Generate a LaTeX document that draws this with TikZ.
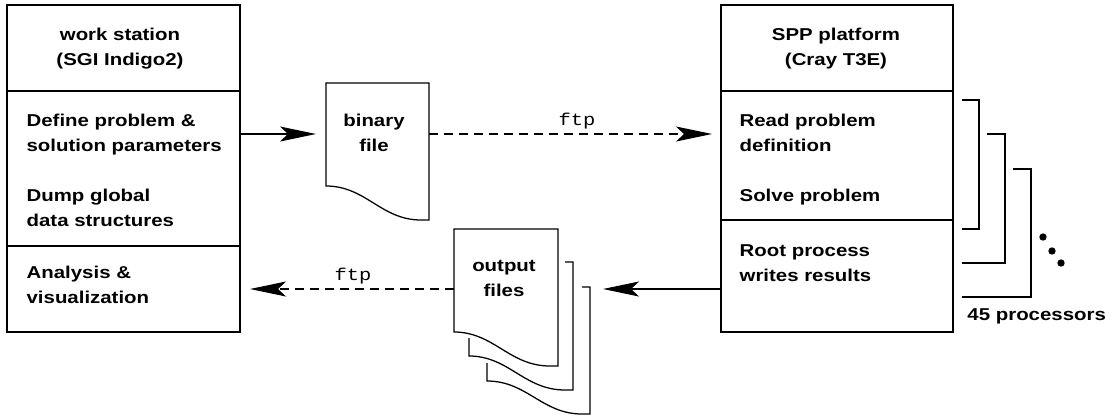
\documentclass[tikz,border=0pt]{standalone}
\usepackage{fontspec}
\setmainfont{Liberation Sans}[FakeStretch=1.19]
\setmonofont{Liberation Mono}[FakeStretch=1.19]
\usetikzlibrary{arrows.meta}
\tikzset{
  testo/.style={font=\bfseries\fontsize{12.2pt}{17.7pt}\selectfont, align=left, anchor=base west, inner sep=0pt},
  titolo/.style={testo, align=center, anchor=base},
  etichetta/.style={font=\ttfamily\fontsize{12.2pt}{17.7pt}\selectfont, anchor=base, inner sep=0pt},
  freccia/.style={-{Stealth[length=0.9cm, width=0.375cm, inset=0.2cm]}, line width=0.9pt},
  tratteggio/.style={dash pattern=on 0.225cm off 0.15cm},
}
\begin{document}
\begin{tikzpicture}[x=0.025cm, y=-0.025cm, line width=0.9pt]
            \useasboundingbox (0,0) rectangle (1115,417);
            %riquadri
            \draw (7,5) rectangle (240,332);
            \draw (7,91) -- (240,91);
            \draw (7,246) -- (240,246);
            \draw (721,5) rectangle (953,332);
            \draw (721,91) -- (953,91);
            \draw (721,220) -- (953,220);
            %file
            \draw (326,83) -- (429,83) -- (429,220) -- (421,220)
                .. controls (381,220) and (366,186) .. (326,186) -- cycle;
            \draw (454,229) -- (558,229) -- (558,366) -- (550,366)
                .. controls (509,366) and (494,332) .. (454,332) -- cycle;
            \draw (565,262) -- (573,262) -- (573,390) -- (565,390)
                .. controls (524,390) and (509,356) .. (469,356) -- (469,338);
            \draw (582,287) -- (590,287) -- (590,414) -- (582,414)
                .. controls (542,414) and (527,381) .. (487,381) -- (487,363);
            %processori
            \draw (962,100) -- (979,100) -- (979,229) -- (962,229);
            \draw (987,134) -- (1005,134) -- (1005,263) -- (962,263);
            \draw (1013,169) -- (1031,169) -- (1031,297) -- (962,297);
            \fill (1043,237) circle (0.092cm);
            \fill (1052,251) circle (0.092cm);
            \fill (1061,263) circle (0.092cm);
            %punti
            \coordinate (ws-out) at (240,134);
            \coordinate (bin-in) at (316,134);
            \coordinate (bin-out) at (429,134);
            \coordinate (spp-in) at (712,134);
            \coordinate (spp-out) at (721,289);
            \coordinate (out-in) at (603,289);
            \coordinate (out-out) at (454,289);
            \coordinate (ws-in) at (250,289);
            %frecce
            \draw[freccia] (ws-out) -- (bin-in);
            \draw[freccia, tratteggio] (bin-out) -- (spp-in);
            \draw[freccia] (spp-out) -- (out-in);
            \draw[freccia, tratteggio] (out-out) -- (ws-in);
            %etichette (y = base dell'ultima riga)
            \node[titolo] (ws-titolo) at (120,65.7) {work station\\(SGI Indigo2)};
            \node[testo] (ws-def) at (26,151) {Define problem \&\\solution parameters};
            \node[testo] (ws-dump) at (26,226.7) {Dump global\\data structures};
            \node[testo] (ws-vis) at (26,303.3) {Analysis \&\\visualization};
            \node[titolo] (spp-titolo) at (836,65.7) {SPP platform\\(Cray T3E)};
            \node[testo] (spp-read) at (739,151) {Read problem\\definition};
            \node[testo] (spp-solve) at (739,201.7) {Solve problem};
            \node[testo] (spp-root) at (739,281.7) {Root process\\writes results};
            \node[titolo] (proc) at (1036.7,320) {45 processors};
            \node[titolo] (bin) at (374,151) {binary\\file};
            \node[titolo] (out) at (504,296.7) {output\\files};
            \node[etichetta] (ftp-su) at (577,125.7) {ftp};
            \node[etichetta] (ftp-giu) at (353,280.5) {ftp};
        \end{tikzpicture}
\end{document}
